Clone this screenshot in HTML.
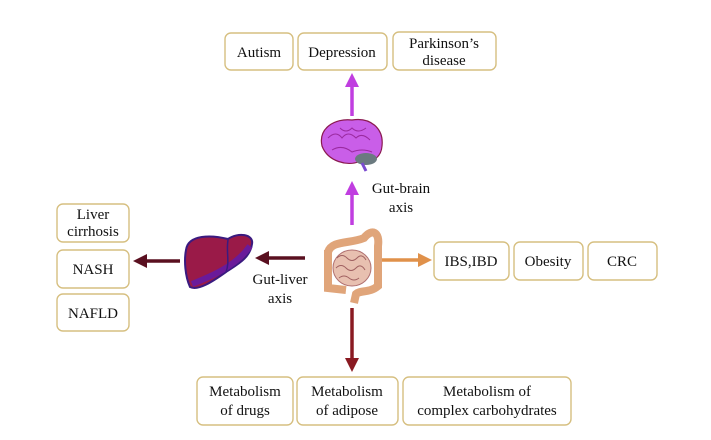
<!DOCTYPE html>
<html><head><style>
body{margin:0;background:#fff;}
svg text{font-family:"Liberation Serif",serif;font-size:15px;fill:#111;text-anchor:middle;}
</style></head><body>
<svg width="711" height="435" viewBox="0 0 711 435" xmlns="http://www.w3.org/2000/svg">
<defs>
<marker id="m" markerWidth="4" markerHeight="4" refX="2" refY="2" orient="auto" markerUnits="strokeWidth"><path d="M0,0 L4,2 L0,4z" fill="context-stroke"/></marker>
</defs>
<g fill="#fff" stroke="#d6bf80" stroke-width="1.4">
<rect x="225" y="33" width="68" height="37" rx="6"/>
<rect x="298" y="33" width="89" height="37" rx="6"/>
<rect x="393" y="32" width="103" height="38" rx="6"/>
<rect x="57" y="204" width="72" height="38" rx="6"/>
<rect x="57" y="250" width="72" height="38" rx="6"/>
<rect x="57" y="294" width="72" height="37" rx="6"/>
<rect x="434" y="242" width="75" height="38" rx="6"/>
<rect x="514" y="242" width="69" height="38" rx="6"/>
<rect x="588" y="242" width="69" height="38" rx="6"/>
<rect x="197" y="377" width="96" height="48" rx="6"/>
<rect x="297" y="377" width="101" height="48" rx="6"/>
<rect x="403" y="377" width="168" height="48" rx="6"/>
</g>
<text x="259" y="57">Autism</text>
<text x="342" y="57">Depression</text>
<text x="444" y="48">Parkinson’s</text><text x="444" y="65">disease</text>
<text x="93" y="219">Liver</text><text x="93" y="236">cirrhosis</text>
<text x="93" y="274">NASH</text>
<text x="93" y="318">NAFLD</text>
<text x="471" y="266">IBS,IBD</text>
<text x="548" y="266">Obesity</text>
<text x="622" y="266">CRC</text>
<text x="245" y="396">Metabolism</text><text x="245" y="415">of drugs</text>
<text x="347" y="396">Metabolism</text><text x="347" y="415">of adipose</text>
<text x="487" y="396">Metabolism of</text><text x="487" y="415">complex carbohydrates</text>
<text x="401" y="193">Gut-brain</text><text x="401" y="212">axis</text>
<text x="280" y="284">Gut-liver</text><text x="280" y="303">axis</text>
<g stroke-width="3.5" fill="none">
<line x1="352" y1="116" x2="352" y2="80" stroke="#c03ee0" marker-end="url(#m)"/>
<line x1="352" y1="225" x2="352" y2="188" stroke="#c03ee0" marker-end="url(#m)"/>
<line x1="305" y1="258" x2="262" y2="258" stroke="#5a1020" marker-end="url(#m)"/>
<line x1="180" y1="261" x2="140" y2="261" stroke="#5a1020" marker-end="url(#m)"/>
<line x1="382" y1="260" x2="425" y2="260" stroke="#e0914a" marker-end="url(#m)"/>
<line x1="352" y1="308" x2="352" y2="365" stroke="#8a1a22" marker-end="url(#m)"/>
</g>
<!-- brain -->
<path d="M322,146 C318,128 335,118 352,120 C370,117 384,128 382,146 C381,160 368,164 358,162 C348,166 328,162 322,146z" fill="#c95ee8" stroke="#8a1a50" stroke-width="1.2"/>
<ellipse cx="366" cy="159" rx="11" ry="6" fill="#6b7a80"/>
<path d="M362,163 L366,171" stroke="#7a4ad0" stroke-width="3"/>
<path d="M328,138 q8,-8 14,0 q6,-8 14,0 q6,-6 14,2 M332,150 q10,-6 20,2 q10,-4 20,0 M340,128 q6,6 12,0 q6,6 14,0" stroke="#9a2aa0" fill="none" stroke-width="1"/>
<!-- liver -->
<path d="M186,250 C188,234 212,235 228,239 C238,232 254,234 252,244 C250,258 238,264 226,272 C212,282 198,291 190,287 C185,276 184,260 186,250z" fill="#9a1a48" stroke="#3a1a80" stroke-width="2"/>
<path d="M192,284 C212,276 236,266 250,246" stroke="#6a1a9a" stroke-width="6" fill="none"/>
<path d="M228,240 C226,252 230,262 226,272" stroke="#3a1a80" stroke-width="1.5" fill="none"/>
<!-- gut -->
<path d="M328,252 C332,240 350,244 364,238 C372,228 380,232 378,246 L378,286 C370,293 360,290 356,294 L354,303" stroke="#e0a57a" stroke-width="8" fill="none"/>
<path d="M328,250 L328,288 L346,290" stroke="#e0a57a" stroke-width="8" fill="none"/>
<ellipse cx="352" cy="268" rx="19" ry="18" fill="#e8c0b0" stroke="#b07070" stroke-width="1"/>
<path d="M337,258 q5,-5 10,0 q5,5 10,0 q5,-5 9,2 M336,268 q5,-5 10,0 q5,5 10,0 q5,-5 9,2 M339,278 q5,-4 10,0 q5,4 10,0" stroke="#a06060" fill="none" stroke-width="1"/>
</svg>
</body></html>
